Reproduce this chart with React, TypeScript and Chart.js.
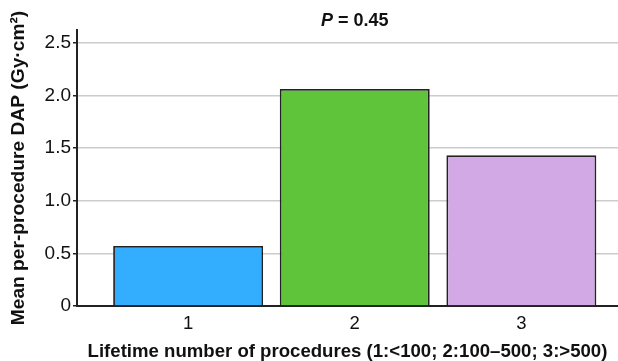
import React, { useEffect, useRef } from "react";
import { Chart, registerables } from "chart.js";

Chart.register(...registerables);

const categories = [1, 2, 3];
const meanDap = [0.57, 2.06, 1.43];
const barColors = ["#33AEFF", "#5FC43A", "#D2A9E4"];
const yTickValues = [0, 0.5, 1.0, 1.5, 2.0, 2.5];
const xTickValues = [1, 2, 3];
const pValueLabel = "0.45";
const xTitle = "Lifetime number of procedures (1:<100; 2:100\u2013500; 3:>500)";
const yTitle = "Mean per-procedure DAP (Gy\u00b7cm\u00b2)";

const FONT = "'Liberation Sans', Arial, Helvetica, sans-serif";

const titlePlugin = {
  id: "pTitle",
  afterDraw(chart: any) {
    const ctx = chart.ctx;
    const xs = chart.scales.x;
    const cx = xs.getPixelForValue(categories[1]);
    const y = 21;
    ctx.save();
    ctx.fillStyle = "#111";
    ctx.textBaseline = "middle";
    ctx.textAlign = "left";
    const pFont = `italic bold 18px ${FONT}`;
    const rFont = `bold 18px ${FONT}`;
    ctx.font = pFont;
    const wP = ctx.measureText("P").width;
    ctx.font = rFont;
    const rest = " = " + pValueLabel;
    const wR = ctx.measureText(rest).width;
    const start = cx - (wP + wR) / 2;
    ctx.font = pFont;
    ctx.fillText("P", start, y);
    ctx.font = rFont;
    ctx.fillText(rest, start + wP, y);
    ctx.restore();
  },
};

export default function App() {
  const ref = useRef<HTMLCanvasElement | null>(null);
  useEffect(() => {
    document.body.style.margin = "0";
    const canvas = ref.current;
    if (!canvas) return;
    const chart = new Chart(canvas, {
      type: "bar",
      data: {
        datasets: [
          {
            data: categories.map((c, i) => ({ x: c, y: meanDap[i] })),
            backgroundColor: barColors,
            borderColor: "#222222",
            borderWidth: 1.8,
            barPercentage: 0.9,
            categoryPercentage: 1,
          },
        ],
      },
      options: {
        animation: false,
        responsive: false,
        maintainAspectRatio: false,
        layout: { padding: { top: 30, right: 0, left: 0, bottom: 0 } },
        plugins: { legend: { display: false }, tooltip: { enabled: false }, title: { display: false } },
        scales: {
          x: {
            type: "linear",
            offset: false,
            min: 0.333,
            max: 3.58,
            afterBuildTicks: (axis: any) => {
              axis.ticks = xTickValues.map((v) => ({ value: v }));
            },
            afterFit: (scale: any) => {
              scale.height = 55;
            },
            grid: { display: false, drawTicks: false, offset: false },
            border: { display: true, color: "#222222", width: 2 },
            ticks: {
              padding: 7,
              color: "#111",
              font: { family: FONT, size: 18.5 },
              callback: (v: any) => String(v),
            },
            title: {
              display: true,
              text: xTitle,
              color: "#111",
              font: { family: FONT, size: 18.6, weight: "bold" },
              padding: { top: 0, bottom: -2 },
            },
          },
          y: {
            type: "linear",
            min: 0,
            max: 2.62,
            afterBuildTicks: (axis: any) => {
              axis.ticks = yTickValues.map((v) => ({ value: v }));
            },
            afterFit: (scale: any) => {
              scale.width = 77;
            },
            grid: { color: "#cccccc", lineWidth: 1.5, tickLength: 4, tickColor: "#222222" },
            border: { display: true, color: "#222222", width: 2 },
            ticks: {
              padding: 2,
              color: "#111",
              font: { family: FONT, size: 19 },
              callback: (v: any) => (v === 0 ? "0" : Number(v).toFixed(1)),
            },
            title: {
              display: true,
              text: yTitle,
              color: "#111",
              font: { family: FONT, size: 19.2, weight: "bold" },
              padding: { top: 7, bottom: 0 },
            },
          },
        },
      },
      plugins: [titlePlugin],
    } as any);
    return () => chart.destroy();
  }, []);
  return (
    <div style={{ width: 618, height: 361, position: "relative" }}>
      <canvas ref={ref} width={618} height={361} style={{ width: 618, height: 361, display: "block" }} />
    </div>
  );
}
